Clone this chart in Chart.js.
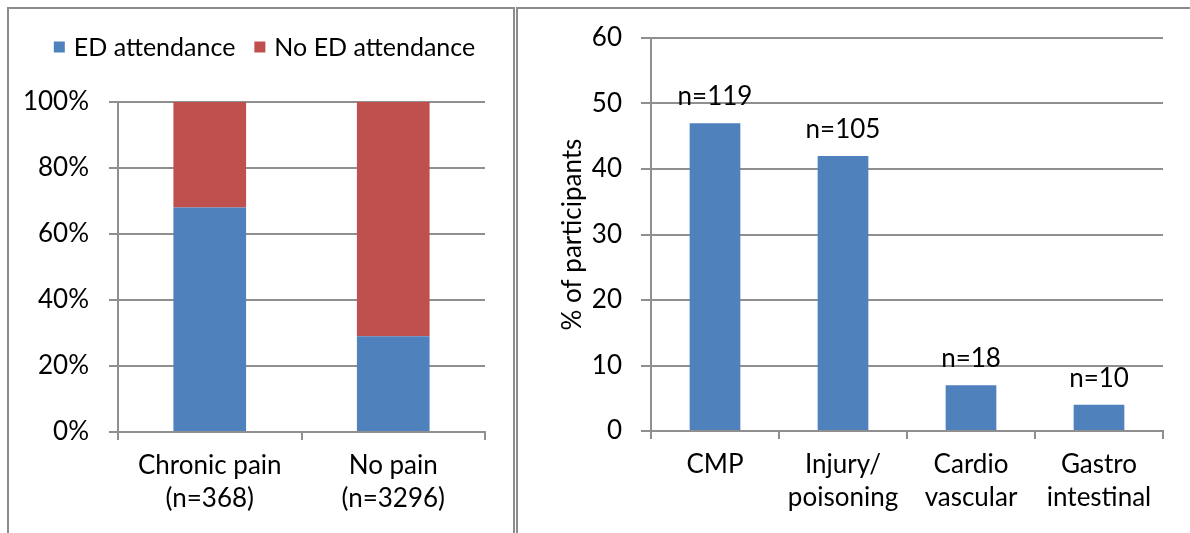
<!DOCTYPE html>
<html>
<head>
<meta charset="utf-8">
<script src="https://cdn.jsdelivr.net/npm/chart.js@4.4.1/dist/chart.umd.min.js"></script>
<style>
  body { margin: 0; background: #fff; width: 1190px; height: 533px; overflow: hidden; position: relative; }
  .panel { position: absolute; top: 7px; height: 560px; border: 2px solid #8c8c8c; box-sizing: border-box; }
  #p1 { left: 7px; width: 508px; }
  #p2 { left: 516px; width: 700px; }
  canvas { position: absolute; }
  #c1 { left: 9px; top: 9px; }
  #c2 { left: 519px; top: 9px; }
</style>
</head>
<body>
<div class="panel" id="p1"></div>
<div class="panel" id="p2"></div>
<canvas id="c1" width="503" height="524"></canvas>
<canvas id="c2" width="671" height="524"></canvas>
<script>
// left chart: ED attendance by pain group (percent)
const painGroups = [['Chronic pain', '(n=368)'], ['No pain', '(n=3296)']];
const edAttendance = [68, 29];
const noEdAttendance = [32, 71];
const pctTicks = [0, 20, 40, 60, 80, 100];

// right chart: % of participants by condition
const conditions = ['CMP', ['Injury/', 'poisoning'], ['Cardio', 'vascular'], ['Gastro', 'intestinal']];
const participantsPct = [47, 42, 7, 4];
const nLabels = ['n=119', 'n=105', 'n=18', 'n=10'];

const BLUE = '#4f81bd';
const RED = '#c0504d';
const GREY = '#8f8f8f';
const FS = 26;
const font = { family: 'Lato', size: FS, lineHeight: 1.27 };

Chart.defaults.font.family = 'Lato';
Chart.defaults.color = '#000';
Chart.defaults.animation = false;

// simple legend drawn above the plot, like Excel's
const topLegend = {
  id: 'topLegend',
  afterDraw(chart) {
    const ctx = chart.ctx;
    ctx.save();
    ctx.font = (FS - 1) + 'px Lato';
    const box = 11, gap = 9, sep = 19;
    const items = chart.data.datasets.map(d => ({
      text: d.label, color: d.backgroundColor,
      w: box + gap + ctx.measureText(d.label).width
    }));
    const total = items.reduce((a, it) => a + it.w, 0) + sep * (items.length - 1);
    let x = (chart.width - total) / 2 + 4;
    const y = chart.chartArea.top - 55;
    ctx.textBaseline = 'middle';
    items.forEach(it => {
      ctx.fillStyle = it.color;
      ctx.fillRect(x, y - box / 2, box, box);
      ctx.fillStyle = '#000';
      ctx.fillText(it.text, x + box + gap, y + 1);
      x += it.w + sep;
    });
    ctx.restore();
  }
};

// n= labels over the bars
const barLabels = {
  id: 'barLabels',
  afterDatasetsDraw(chart) {
    const ctx = chart.ctx;
    ctx.save();
    ctx.font = FS + 'px Lato';
    ctx.fillStyle = '#000';
    ctx.textAlign = 'center';
    ctx.textBaseline = 'alphabetic';
    chart.getDatasetMeta(0).data.forEach((bar, i) => {
      ctx.fillText(nLabels[i], bar.x, bar.y - 18);
    });
    ctx.restore();
  }
};

new Chart(document.getElementById('c1'), {
  type: 'bar',
  data: {
    labels: painGroups,
    datasets: [
      { label: 'ED attendance', data: edAttendance, backgroundColor: BLUE },
      { label: 'No ED attendance', data: noEdAttendance, backgroundColor: RED }
    ]
  },
  options: {
    responsive: false,
    layout: { padding: { top: 93, right: 27, left: 0, bottom: 0 } },
    categoryPercentage: 1,
    barPercentage: 0.396,
    plugins: { legend: { display: false }, tooltip: { enabled: false } },
    scales: {
      x: {
        stacked: true,
        grid: { offset: true, drawOnChartArea: false, tickLength: 8, color: GREY, lineWidth: 2 },
        border: { color: GREY, width: 2 },
        ticks: { font, color: '#000', padding: 9, maxRotation: 0 },
        afterFit: s => { s.height = 101; }
      },
      y: {
        stacked: true,
        min: 0, max: 100,
        afterBuildTicks: s => { s.ticks = pctTicks.map(v => ({ value: v })); },
        ticks: { font, color: '#000', padding: 20, callback: v => v + '%' },
        grid: { color: GREY, lineWidth: 2, tickLength: 9 },
        border: { color: GREY, width: 2 },
        afterFit: s => { s.width = 109; }
      }
    }
  },
  plugins: [topLegend]
});

new Chart(document.getElementById('c2'), {
  type: 'bar',
  data: {
    labels: conditions,
    datasets: [{ label: '% of participants', data: participantsPct, backgroundColor: BLUE }]
  },
  options: {
    responsive: false,
    layout: { padding: { top: 29, right: 27, left: 0, bottom: 0 } },
    categoryPercentage: 1,
    barPercentage: 0.396,
    plugins: { legend: { display: false }, tooltip: { enabled: false } },
    scales: {
      x: {
        grid: { offset: true, drawOnChartArea: false, tickLength: 8, color: GREY, lineWidth: 2 },
        border: { color: GREY, width: 2 },
        ticks: { font, color: '#000', padding: 9, maxRotation: 0 },
        afterFit: s => { s.height = 102; }
      },
      y: {
        min: 0, max: 60,
        ticks: { stepSize: 10, font, color: '#000', padding: 19 },
        grid: { color: GREY, lineWidth: 2, tickLength: 10 },
        border: { color: GREY, width: 2 },
        title: { display: true, text: '% of participants', font, color: '#000', padding: { top: 37, bottom: 0 } },
        afterFit: s => { s.width = 132; s.paddingTop = 0; s.paddingBottom = 0; }
      }
    }
  },
  plugins: [barLabels]
});
</script>
</body>
</html>
